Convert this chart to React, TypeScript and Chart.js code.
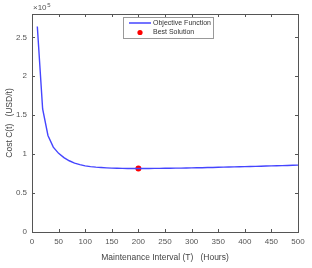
import React, { useEffect, useRef } from "react";
import { Chart, registerables } from "chart.js";

Chart.register(...registerables);

const intervals = [10, 20, 30, 40, 50, 60, 70, 80, 90, 100, 110, 120, 130, 140, 150, 160, 170, 180, 190, 200, 210, 220, 230, 240, 250, 260, 270, 280, 290, 300, 310, 320, 330, 340, 350, 360, 370, 380, 390, 400, 410, 420, 430, 440, 450, 460, 470, 480, 490, 500];
const costs = [264000, 158000, 124000, 109000, 101000, 95500, 91500, 88500, 86500, 85000, 84000, 83300, 82800, 82400, 82100, 81900, 81700, 81600, 81600, 81600, 81600, 81600, 81700, 81700, 81800, 81900, 82000, 82100, 82200, 82400, 82500, 82600, 82800, 82900, 83100, 83300, 83400, 83600, 83800, 84000, 84200, 84300, 84500, 84700, 84900, 85100, 85300, 85500, 85700, 85900];
const bestT = [200];
const bestCost = [81600];
const xTicks = [0, 50, 100, 150, 200, 250, 300, 350, 400, 450, 500];
const yTicks = [0, 50000, 100000, 150000, 200000, 250000];
const seriesNames = ["Objective Function", "Best Solution"];

const FONT = "'Liberation Sans', Arial, sans-serif";
const AXIS = "#555555";
const TXT = "#555555";

const framePlugin = {
  id: "frame",
  afterDraw(chart: any) {
    const { ctx, chartArea: a, scales } = chart;
    ctx.save();
    ctx.strokeStyle = AXIS;
    ctx.lineWidth = 1;
    ctx.strokeRect(Math.round(a.left) + 0.5, Math.round(a.top) + 0.5, Math.round(a.right - a.left), Math.round(a.bottom - a.top));
    const tl = 3;
    ctx.beginPath();
    scales.x.ticks.forEach((t: any) => {
      const px = Math.round(scales.x.getPixelForValue(t.value)) + 0.5;
      ctx.moveTo(px, a.bottom); ctx.lineTo(px, a.bottom - tl);
      ctx.moveTo(px, a.top); ctx.lineTo(px, a.top + tl);
    });
    scales.y.ticks.forEach((t: any) => {
      const py = Math.round(scales.y.getPixelForValue(t.value)) + 0.5;
      ctx.moveTo(a.left, py); ctx.lineTo(a.left + tl, py);
      ctx.moveTo(a.right, py); ctx.lineTo(a.right - tl, py);
    });
    ctx.stroke();
    // exponent label
    ctx.fillStyle = TXT;
    ctx.textBaseline = "alphabetic";
    ctx.font = `8px ${FONT}`;
    ctx.fillText("\u00d710", a.left + 1, a.top - 4);
    ctx.font = `6px ${FONT}`;
    ctx.fillText("5", a.left + 1 + ctx.measureText("\u00d710").width + 4, a.top - 7);
    // legend
    const ds0 = chart.data.datasets[0];
    const ds1 = chart.data.datasets[1];
    const bx = 123, by = 17, bw = 90, bh = 21;
    ctx.fillStyle = "#ffffff";
    ctx.fillRect(bx, by, bw, bh);
    ctx.strokeStyle = "#999999";
    ctx.strokeRect(bx + 0.5, by + 0.5, bw, bh);
    ctx.strokeStyle = ds0.borderColor;
    ctx.lineWidth = 1.5;
    ctx.beginPath();
    ctx.moveTo(129, 23); ctx.lineTo(151, 23);
    ctx.stroke();
    ctx.fillStyle = ds1.backgroundColor;
    ctx.beginPath();
    ctx.arc(140, 32.5, 2.6, 0, Math.PI * 2);
    ctx.fill();
    ctx.fillStyle = "#333333";
    ctx.font = `7px ${FONT}`;
    ctx.textBaseline = "middle";
    ctx.fillText(ds0.label, 153, 23);
    ctx.fillText(ds1.label, 153, 32.5);
    ctx.restore();
  },
};

export default function App() {
  const ref = useRef<HTMLCanvasElement>(null);
  useEffect(() => {
    const chart = new Chart(ref.current!, {
      type: "line",
      data: {
        datasets: [
          {
            label: seriesNames[0],
            data: intervals.map((t, i) => ({ x: t, y: costs[i] })),
            borderColor: "#4545ff",
            backgroundColor: "#4545ff",
            borderWidth: 1.4,
            pointRadius: 0,
            tension: 0,
          },
          {
            label: seriesNames[1],
            data: bestT.map((t, i) => ({ x: t, y: bestCost[i] })),
            borderColor: "#ff0000",
            backgroundColor: "#ff0000",
            showLine: false,
            pointRadius: 3,
            pointBorderWidth: 0,
          },
        ],
      },
      options: {
        responsive: false,
        animation: false,
        layout: { padding: { left: 0, top: 14, right: 14, bottom: 0 } },
        plugins: { legend: { display: false }, tooltip: { enabled: false } },
        scales: {
          x: {
            type: "linear",
            min: 0,
            max: 500,
            afterBuildTicks: (s: any) => { s.ticks = xTicks.map((v) => ({ value: v })); },
            afterFit: (s: any) => { s.height = 36; },
            grid: { display: false, drawTicks: false },
            border: { display: false },
            ticks: { color: TXT, font: { family: FONT, size: 8 }, padding: 5, maxRotation: 0 },
            title: {
              display: true,
              text: "Maintenance Interval (T)   (Hours)",
              color: "#444444",
              font: { family: FONT, size: 8.5 },
              padding: { top: 6, bottom: 5 },
            },
          },
          y: {
            type: "linear",
            min: 0,
            max: 280000,
            afterBuildTicks: (s: any) => { s.ticks = yTicks.map((v) => ({ value: v })); },
            afterFit: (s: any) => { s.width = 32; },
            grid: { display: false, drawTicks: false },
            border: { display: false },
            ticks: {
              color: TXT,
              font: { family: FONT, size: 8 },
              padding: 5,
              callback: (v: any) => String(Number(v) / 100000),
            },
            title: {
              display: true,
              text: "Cost C(t)   (USD/t)",
              color: "#444444",
              font: { family: FONT, size: 8.5 },
              padding: { top: 5, bottom: 0 },
            },
          },
        },
      },
      plugins: [framePlugin],
    } as any);
    return () => chart.destroy();
  }, []);
  return (
    <div style={{ position: "absolute", left: 0, top: 0, width: 312, height: 268, background: "#fff" }}>
      <canvas ref={ref} width={312} height={268} style={{ display: "block" }} />
    </div>
  );
}
